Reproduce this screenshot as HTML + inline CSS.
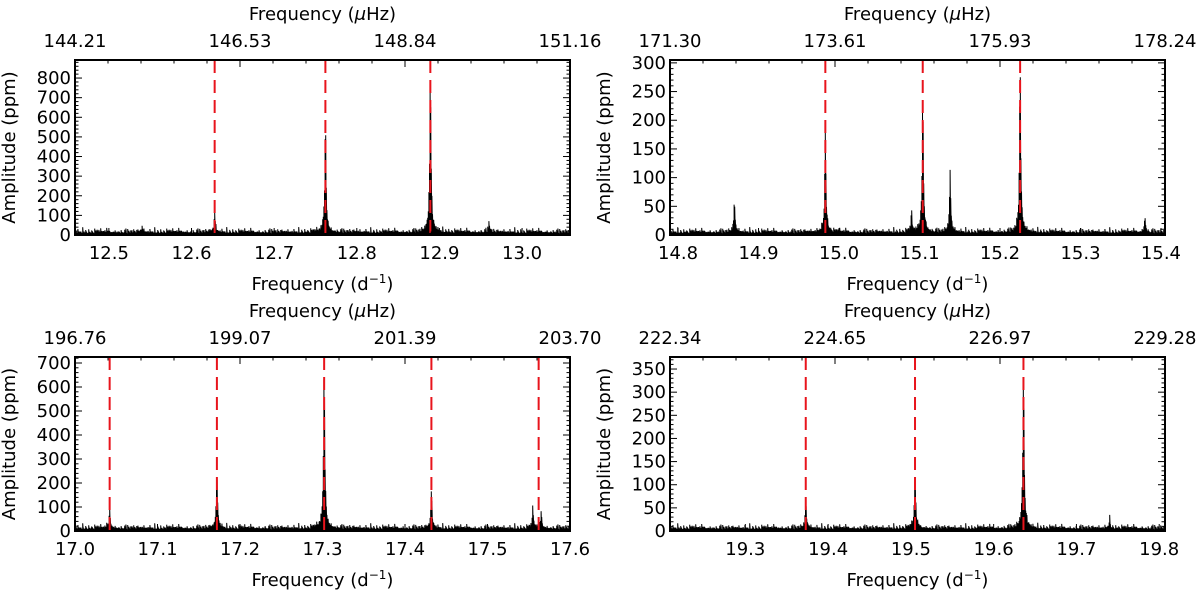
<!DOCTYPE html>
<html><head><meta charset="utf-8"><style>
body{margin:0;background:#fff}
svg text{font-family:"DejaVu Sans","Liberation Sans",sans-serif;fill:#000}
</style></head><body>
<svg id="fig" width="1200" height="594" viewBox="0 0 1200 594" xmlns="http://www.w3.org/2000/svg"></svg>
<script>
// Panel data
const p1Modes = [12.628, 12.762, 12.889];
const p1PeakFreq = [12.628, 12.762, 12.889, 12.96, 12.54];
const p1PeakAmp = [90, 520, 760, 45, 25];
const p2Modes = [14.983, 15.104, 15.225];
const p2PeakFreq = [14.87, 14.983, 15.09, 15.104, 15.138, 15.225, 15.38];
const p2PeakAmp = [50, 160, 30, 220, 97, 270, 25];
const p3Modes = [17.042, 17.172, 17.302, 17.432, 17.562];
const p3PeakFreq = [17.042, 17.172, 17.302, 17.432, 17.555, 17.565];
const p3PeakAmp = [70, 205, 630, 140, 75, 60];
const p4Modes = [19.373, 19.505, 19.636];
const p4PeakFreq = [19.373, 19.505, 19.636, 19.74];
const p4PeakAmp = [52, 110, 320, 18];
const noiseLevels = [8,14,5,11,18,7,12,4,16,9,13,6,20,10,3,15,8,12,17,5,11,7,14,9];
const p1TopLabels = ["144.21","146.53","148.84","151.16"];
const p2TopLabels = ["171.30","173.61","175.93","178.24"];
const p3TopLabels = ["196.76","199.07","201.39","203.70"];
const p4TopLabels = ["222.34","224.65","226.97","229.28"];
const p1XTicks=[12.5,12.6,12.7,12.8,12.9,13.0], p1YTicks=[0,100,200,300,400,500,600,700,800];
const p2XTicks=[14.8,14.9,15.0,15.1,15.2,15.3,15.4], p2YTicks=[0,50,100,150,200,250,300];
const p3XTicks=[17.0,17.1,17.2,17.3,17.4,17.5,17.6], p3YTicks=[0,100,200,300,400,500,600,700];
const p4XTicks=[19.3,19.4,19.5,19.6,19.7,19.8], p4YTicks=[0,50,100,150,200,250,300,350];

const NS="http://www.w3.org/2000/svg";
const svg=document.getElementById('fig');
function mk(tag,attrs,parent){const e=document.createElementNS(NS,tag);for(const k in attrs)e.setAttribute(k,attrs[k]);(parent||svg).appendChild(e);return e;}
function panel(name,box,xr,yr,modes,pf,pa,topLabels,xt,yt,minorY){
  const g=mk('g',{});
  
  
  const [L,T,R,B]=box;
  const sx=v=>L+(v-xr[0])/(xr[1]-xr[0])*(R-L);
  const sy=v=>B-(v-yr[0])/(yr[1]-yr[0])*(B-T);
  let d='';
  let i=0;
  const ns=yr[1]/350;
  for(let px=L+0.5;px<R;px+=0.6,i++){
    const f=xr[0]+(px-L)/(R-L)*(xr[1]-xr[0]);
    let a=(noiseLevels[i%noiseLevels.length]*(0.3+0.7*((i*7)%5)/4)*0.7+1.5)*ns;
    for(let k=0;k<pf.length;k++){
      const df=(f-pf[k])/0.0008, db=(f-pf[k])/0.003;
      a+=pa[k]/(1+df*df)+0.12*pa[k]/(1+db*db)*(0.5+0.5*((i*3)%4)/3);
    }
    const y=Math.max(sy(Math.min(a,yr[1])),T);
    d+=(d?'L':'M')+px.toFixed(2)+','+sy(0).toFixed(1)+'L'+px.toFixed(2)+','+y.toFixed(1);
  }
  const sp=mk('path',{d:d,stroke:'#000','stroke-width':1,fill:'none'},g);
  
  
  modes.forEach(m=>{
    const ln=mk('line',{x1:sx(m),x2:sx(m),y1:T,y2:B,stroke:'#e8141c','stroke-width':2,'stroke-dasharray':'13,7'},g);
    
    
  });
  const fr=mk('rect',{x:L,y:T,width:R-L,height:B-T,fill:'none',stroke:'#000','stroke-width':2},g);
  
  
  const step=0.01;
  for(let v=Math.ceil(xr[0]/step)*step;v<=xr[1]+1e-9;v+=step){
    const major=Math.abs(v*10-Math.round(v*10))<1e-6;
    const x=sx(v),l=major?7:3.5;
    mk('line',{x1:x,x2:x,y1:B,y2:B-l,stroke:'#000','stroke-width':1},g);
  }
  xt.forEach(v=>{const t=mk('text',{x:sx(v),y:B+24,'font-size':18,'text-anchor':'middle'},g);t.textContent=v.toFixed(1);
    });
  topLabels.forEach((s,k)=>{const x=L+k*(R-L)/3;
    mk('line',{x1:x,x2:x,y1:T,y2:T+7,stroke:'#000','stroke-width':1},g);
    for(let m=1;m<5&&k<3;m++){const xm=x+m*(R-L)/15;mk('line',{x1:xm,x2:xm,y1:T,y2:T+3.5,stroke:'#000','stroke-width':1},g);}
    const t=mk('text',{x:x,y:T-13,'font-size':18,'text-anchor':'middle'},g);t.textContent=s;
    });
  for(let v=0;v<=yr[1];v+=minorY){
    const major=yt.some(y=>Math.abs(y-v)<1e-6);
    const y=sy(v),l=major?7:3.5;
    mk('line',{x1:L,x2:L+l,y1:y,y2:y,stroke:'#000','stroke-width':1},g);
    mk('line',{x1:R,x2:R-l,y1:y,y2:y,stroke:'#000','stroke-width':1},g);
  }
  yt.forEach(v=>{const t=mk('text',{x:L-4,y:sy(v)+6,'font-size':18,'text-anchor':'end'},g);t.textContent=v;
    });
  const cx=(L+R)/2;
  const tt=mk('text',{x:cx,y:T-40,'font-size':18,'text-anchor':'middle'},g);
  tt.innerHTML='Frequency (<tspan font-style="italic">μ</tspan>Hz)';
  
  const bt=mk('text',{x:cx,y:B+55,'font-size':18,'text-anchor':'middle'},g);
  bt.innerHTML='Frequency (d<tspan dy="-7" font-size="12">−1</tspan><tspan dy="7">)</tspan>';
  
  const yl=mk('text',{x:0,y:0,'font-size':18,'text-anchor':'middle',transform:`translate(${L-60},${(T+B)/2}) rotate(-90)`},g);
  yl.textContent='Amplitude (ppm)';
  
}
panel('panel-1',[75,60,570,235],[12.459,13.058],[0,892],p1Modes,p1PeakFreq,p1PeakAmp,p1TopLabels,p1XTicks,p1YTicks,20);
panel('panel-2',[670,60,1165,235],[14.79,15.405],[0,305],p2Modes,p2PeakFreq,p2PeakAmp,p2TopLabels,p2XTicks,p2YTicks,10);
panel('panel-3',[75,357,570,531],[17.0,17.6],[0,725],p3Modes,p3PeakFreq,p3PeakAmp,p3TopLabels,p3XTicks,p3YTicks,20);
panel('panel-4',[670,357,1165,531],[19.209,19.807],[0,376],p4Modes,p4PeakFreq,p4PeakAmp,p4TopLabels,p4XTicks,p4YTicks,10);
</script>
</body></html>
